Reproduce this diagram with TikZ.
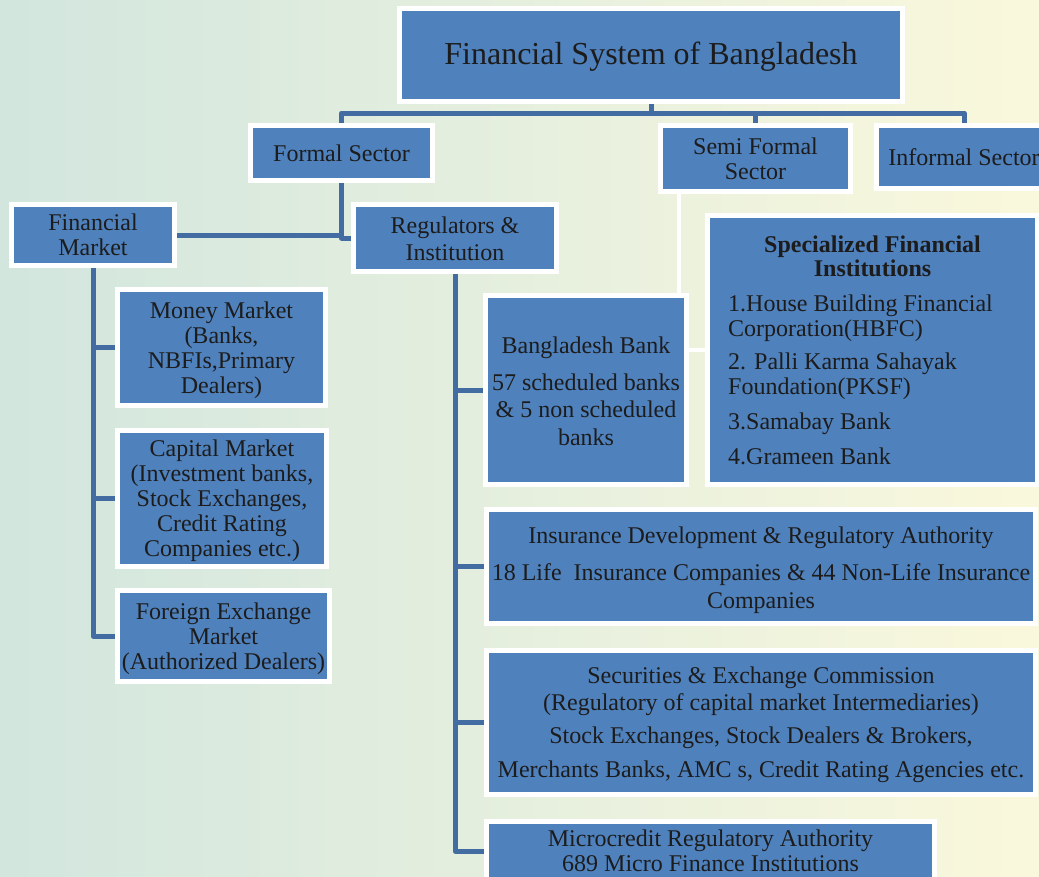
\documentclass[tikz,border=0pt]{standalone}
\usepackage{fontspec}
\setmainfont{Liberation Serif}
\definecolor{boxblue}{RGB}{79,129,189}
\definecolor{linkblue}{RGB}{66,108,162}
\definecolor{txt}{RGB}{28,28,28}
\definecolor{bgleft}{RGB}{210,230,222}
\definecolor{bgmid}{RGB}{230,239,222}
\definecolor{bgright}{RGB}{250,248,220}
\newcommand\mytsh[1]{\rule{0pt}{#1pt}}
\tikzset{
  box/.style={fill=boxblue, draw=white, line width=5pt, inner sep=0pt, text=txt,
    align=center, font=\fontsize{24}{25}\selectfont},
  txtnode/.style={inner sep=0pt, text=txt, font=\fontsize{24}{25}\selectfont},
  link/.style={draw=linkblue, line width=5pt, line join=round},
  wlink/.style={draw=white, line width=4.5pt},
}
\begin{document}
\begin{tikzpicture}[x=1pt,y=-1pt]
\useasboundingbox (0,0) rectangle (1039,876);
\shade[left color=bgleft, right color=bgright, middle color=bgmid] (0,0) rectangle (1039,876);
\clip (0,0) rectangle (1039,876);

% boxes (minimum size = inner blue size + 5)
\node[box, minimum width=503, minimum height=93, font=\fontsize{32}{34}\selectfont] (title) at (651,55) {\mytsh{26.5}Financial System of Bangladesh};
\node[box, minimum width=182, minimum height=55] (formal) at (341.5,153) {Formal Sector};
\node[box, minimum width=190, minimum height=66] (semi) at (755.5,158.5) {Semi Formal\\Sector};
\node[box, minimum width=175, minimum height=63] (informal) at (964,157) {Informal Sector};
\node[box, minimum width=163, minimum height=61] (finmkt) at (93,235) {Financial\\Market};
\node[box, minimum width=203, minimum height=67] (reg) at (455,238) {\mytsh{18.4}Regulators \&\\[2pt]Institution};
\node[box, minimum width=208, minimum height=116] (money) at (221.5,347.5) {\mytsh{22.4}Money Market\\(Banks,\\NBFIs,Primary\\Dealers)};
\node[box, minimum width=209, minimum height=136] (capital) at (222,498.5) {\mytsh{20.4}Capital Market\\(Investment banks,\\Stock Exchanges,\\Credit Rating\\Companies etc.)};
\node[box, minimum width=212, minimum height=91] (forex) at (223.5,636) {\mytsh{21.4}Foreign Exchange\\Market\\(Authorized Dealers)};
\node[box, minimum width=201, minimum height=189] (bb) at (586,390) {\mytsh{18.4}Bangladesh Bank\\[12pt]57 scheduled banks\\[2pt]\& 5 non scheduled\\[3pt]banks};
\node[box, minimum width=330, minimum height=269] (sfi) at (872.5,350) {};
\node[txtnode, anchor=north, align=center, font=\fontsize{24}{24}\selectfont\bfseries] (sfihead) at (872.5,235.5) {Specialized Financial\\Institutions};
\node[txtnode, anchor=north west, align=left] (sfilist) at (728,294.5) {1.House Building Financial\\Corporation(HBFC)\\[8pt]2. Palli Karma Sahayak\\Foundation(PKSF)\\[10pt]3.Samabay Bank\\[10pt]4.Grameen Bank};
\node[box, minimum width=549, minimum height=114] (ins) at (761,566.5) {\mytsh{24.4}Insurance Development \& Regulatory Authority\\[12pt]18 Life~ Insurance Companies \& 44 Non-Life Insurance\\[3pt]Companies};
\node[box, minimum width=549, minimum height=144] (sec) at (761,722.5) {\mytsh{20.4}Securities \& Exchange Commission\\[2pt](Regulatory of capital market Intermediaries)\\[8pt]Stock Exchanges, Stock Dealers \& Brokers,\\[9pt]Merchants Banks, AMC s, Credit Rating Agencies etc.};
\node[box, minimum width=448, minimum height=59] (micro) at (710.5,851) {Microcredit Regulatory Authority\\689 Micro Finance Institutions};

% top bus
\coordinate (bus) at (651,113);
\draw[link] (title.south) -- (bus);
\draw[link] (formal.north) |- (bus);
\draw[link] (semi.north) |- (bus);
\draw[link] (informal.north) |- (bus);

% formal sector branch
\draw[link] (formal.south) |- (reg.west);
\draw[link] (finmkt.east) -- (finmkt.east -| formal.south);

% financial market branch
\draw[link] (finmkt.south) |- (money.west);
\draw[link] (finmkt.south) |- (capital.west);
\draw[link] (finmkt.south) |- (forex.west);

% regulators branch
\draw[link] (reg.south) |- (bb.west);
\draw[link] (reg.south) |- (ins.west);
\draw[link] (reg.south) |- (sec.west);
\draw[link] (reg.south) |- (micro.west);

% white links
\coordinate (sx) at (679,0);
\draw[wlink] (semi.south -| sx) -- (bb.north -| sx);
\draw[wlink] (sfi.west -| bb.east) -- (sfi.west);
\end{tikzpicture}
\end{document}
